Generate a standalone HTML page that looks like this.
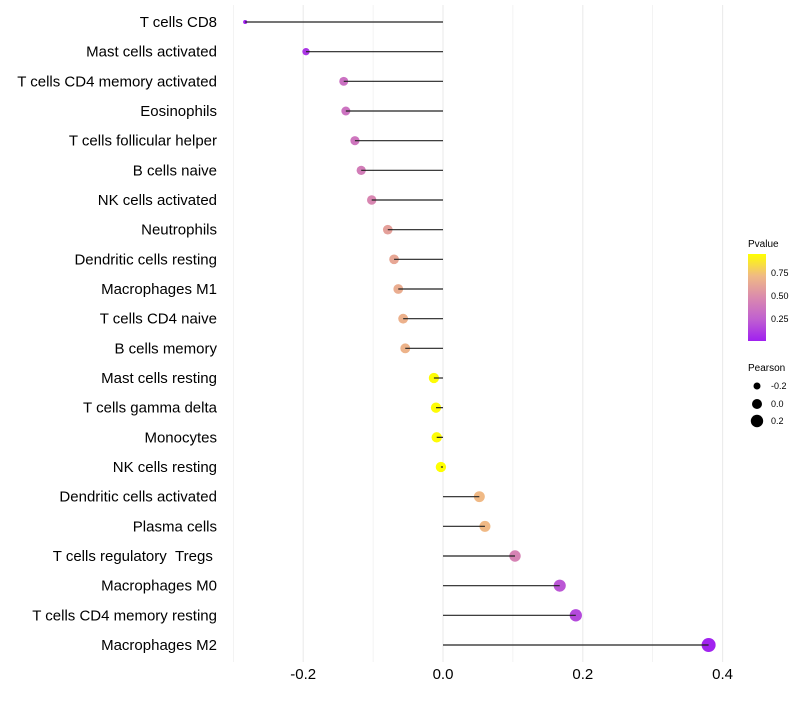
<!DOCTYPE html>
<html><head><meta charset="utf-8"><style>
body{margin:0;background:#fff;font-family:"Liberation Sans",sans-serif}
</style></head><body>
<svg id="chart" width="800" height="700" xmlns="http://www.w3.org/2000/svg">
<defs><linearGradient id="pg" x1="0" y1="1" x2="0" y2="0">
<stop offset="0" stop-color="#A020F0"/><stop offset="0.25" stop-color="#C060D0"/><stop offset="0.5" stop-color="#DA8AAE"/><stop offset="0.75" stop-color="#F0BA84"/><stop offset="1" stop-color="#FFFF00"/>
</linearGradient></defs>
<g id="grid"></g>
<g id="marks"></g>
<g id="ylabels"></g>
<g id="xlabels"></g>
<g font-size="9">
<text x="748" y="247" font-size="10">Pvalue</text>
<rect x="748" y="254" width="18" height="87" fill="url(#pg)"/>
<text x="771" y="276">0.75</text><text x="771" y="299">0.50</text><text x="771" y="322">0.25</text>
</g>
<g font-size="9">
<text x="748" y="371" font-size="10">Pearson</text>
<circle cx="757" cy="386" r="3.5"/><text x="771" y="389">-0.2</text>
<circle cx="757" cy="404" r="5"/><text x="771" y="407">0.0</text>
<circle cx="757" cy="421" r="6.2"/><text x="771" y="424">0.2</text>
</g>
</svg>
<script>
const categories=["T cells CD8","Mast cells activated","T cells CD4 memory activated","Eosinophils","T cells follicular helper","B cells naive","NK cells activated","Neutrophils","Dendritic cells resting","Macrophages M1","T cells CD4 naive","B cells memory","Mast cells resting","T cells gamma delta","Monocytes","NK cells resting","Dendritic cells activated","Plasma cells","T cells regulatory\u00a0\u00a0Tregs\u00a0","Macrophages M0","T cells CD4 memory resting","Macrophages M2"];
const pearson=[-0.283,-0.196,-0.142,-0.139,-0.126,-0.117,-0.102,-0.079,-0.070,-0.064,-0.057,-0.054,-0.013,-0.010,-0.009,-0.003,0.052,0.060,0.103,0.167,0.190,0.380];
const pvalue=[0.02,0.1,0.35,0.36,0.38,0.42,0.47,0.6,0.63,0.66,0.68,0.69,0.95,0.95,0.95,0.97,0.72,0.72,0.45,0.22,0.17,0.03];
const xticks=[-0.2,0.0,0.2,0.4];
const xtickLabels=["-0.2","0.0","0.2","0.4"];
const xminor=[-0.3,-0.1,0.1,0.3];
const NS="http://www.w3.org/2000/svg";
const X=v=>443+v*699;
const Y=i=>22+i*(623/21);
const sizeStops=[[-0.3,1.8],[-0.28,2.1],[-0.2,3.6],[-0.14,4.5],[0,5.2],[0.2,6.2],[0.4,7.1]];
function rad(v){for(let k=1;k<sizeStops.length;k++){const a=sizeStops[k-1],b=sizeStops[k];if(v<=b[0]){return a[1]+(b[1]-a[1])*(v-a[0])/(b[0]-a[0]);}}return 7.1;}
function col(p){
 const st=[[0,[160,32,240]],[0.25,[192,96,208]],[0.5,[218,138,174]],[0.75,[240,186,132]],[1,[255,255,0]]];
 let t=(p-0.02)/(0.96-0.02);t=Math.max(0,Math.min(1,t));
 for(let k=1;k<st.length;k++){if(t<=st[k][0]){const a=st[k-1],b=st[k],f=(t-a[0])/(b[0]-a[0]);
  return "rgb("+a[1].map((c,j)=>Math.round(c+(b[1][j]-c)*f)).join(",")+")";}}
 return "rgb(255,255,0)";
}
function mk(tag,attrs,parent){const e=document.createElementNS(NS,tag);for(const k in attrs)e.setAttribute(k,attrs[k]);parent.appendChild(e);return e;}
const grid=document.getElementById('grid'),marks=document.getElementById('marks'),yl=document.getElementById('ylabels'),xl=document.getElementById('xlabels');
xminor.concat(xticks).forEach(v=>{
 const l=mk('line',{x1:X(v),x2:X(v),y1:5,y2:662,stroke:'#EBEBEB','stroke-width':xticks.includes(v)?1.1:0.6},grid);
 
 
});
xticks.forEach((v,i)=>{
 const t=mk('text',{x:X(v),y:679,'text-anchor':'middle','font-size':15,fill:'#000'},xl);
 t.textContent=xtickLabels[i];
 
 
});
categories.forEach((c,i)=>{
 const y=Y(i);
 const t=mk('text',{x:217,y:y+5,'text-anchor':'end','font-size':15,fill:'#000'},yl);
 t.textContent=c;
 
 
 const d=mk('circle',{cx:X(pearson[i]),cy:y,r:rad(pearson[i]),fill:col(pvalue[i])},marks);
 
 
 const l=mk('line',{x1:X(0),x2:X(pearson[i]),y1:y,y2:y,stroke:'#222','stroke-width':1.2},marks);
 
 
});
</script>
</body></html>
